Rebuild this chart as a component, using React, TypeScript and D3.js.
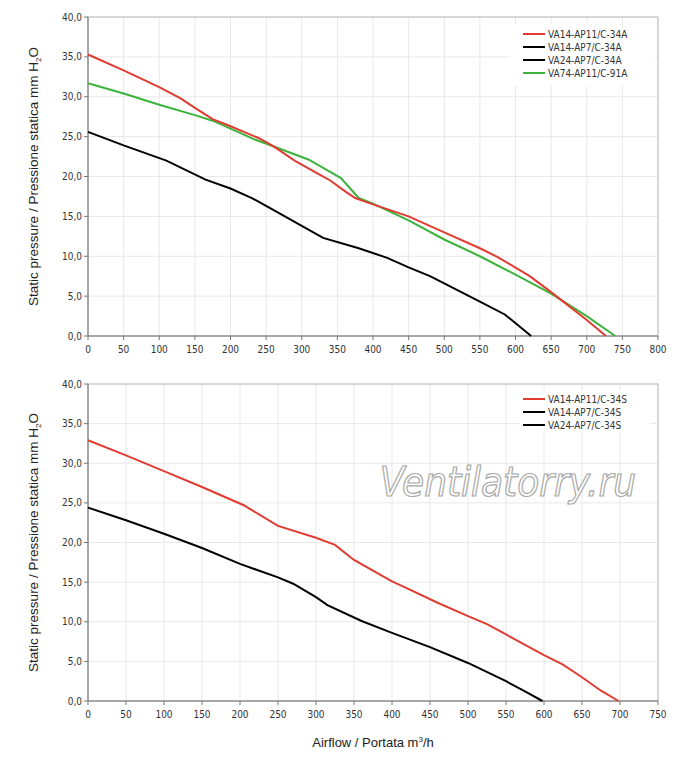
import React from "react";
import * as d3 from "d3";

type P = [number, number];
const topRed: P[] = [[0,35.3],[50,33.3],[100,31.2],[130,29.8],[150,28.6],[175,27.2],[200,26.3],[240,24.8],[260,23.8],[290,22.0],[320,20.5],[340,19.5],[360,18.2],[375,17.3],[400,16.5],[450,15.0],[500,13.0],[550,11.0],[575,9.9],[620,7.5],[650,5.5],[700,2.0],[727,0]];
const topGreen: P[] = [[0,31.7],[50,30.4],[100,29.0],[150,27.7],[175,27.0],[200,26.0],[235,24.6],[260,23.8],[310,22.1],[355,19.8],[380,17.3],[400,16.6],[450,14.5],[500,12.1],[550,10.0],[600,7.7],[650,5.3],[700,2.5],[740,0]];
const topBlack: P[] = [[0,25.6],[50,23.9],[110,22.0],[165,19.6],[200,18.5],[230,17.3],[260,15.8],[300,13.8],[330,12.3],[380,11.0],[420,9.8],[450,8.6],[480,7.5],[500,6.6],[550,4.3],[585,2.7],[622,0]];
const botRed: P[] = [[0,32.9],[50,31.0],[100,29.0],[150,27.0],[205,24.7],[250,22.1],[300,20.6],[325,19.7],[350,17.8],[400,15.1],[420,14.2],[460,12.4],[500,10.7],[525,9.7],[550,8.4],[600,5.8],[625,4.6],[650,3.0],[675,1.3],[698,0]];
const botBlack: P[] = [[0,24.4],[50,22.8],[100,21.1],[150,19.3],[200,17.3],[250,15.6],[270,14.8],[300,13.1],[315,12.1],[360,10.1],[400,8.6],[450,6.8],[500,4.8],[550,2.5],[575,1.2],[598,0]];
const topLegend = ["VA14-AP11/C-34A", "VA14-AP7/C-34A", "VA24-AP7/C-34A", "VA74-AP11/C-91A"];
const topLegendColors = ["#e03c31", "#000", "#000", "#3cb43c"];
const botLegend = ["VA14-AP11/C-34S", "VA14-AP7/C-34S", "VA24-AP7/C-34S"];
const botLegendColors = ["#e03c31", "#000", "#000"];
const yTicks = [0, 5, 10, 15, 20, 25, 30, 35, 40];

const tickFont = "'DejaVu Sans Condensed', 'Liberation Sans Narrow', sans-serif";

function Panel({ top, bottom, xMax, series, legend, legendColors, legY, legBox }: any) {
  const x = d3.scaleLinear().domain([0, xMax]).range([88, 658]);
  const y = d3.scaleLinear().domain([0, 40]).range([bottom, top]);
  const xTicks = d3.range(0, xMax + 1, 50);
  const line = d3.line<P>().x(d => x(d[0])).y(d => y(d[1]));
  return (
    <g>
      {xTicks.map(t => <line key={"gx" + t} x1={x(t)} x2={x(t)} y1={top} y2={bottom} stroke="#e8e8e8" />)}
      {yTicks.map(t => <line key={"gy" + t} x1={88} x2={658} y1={y(t)} y2={y(t)} stroke="#e8e8e8" />)}
      <rect x={88} y={top} width={570} height={bottom - top} fill="none" stroke="#bbb" />
      <line x1={88} x2={88} y1={top} y2={bottom} stroke="#777" />
      <line x1={88} x2={658} y1={bottom} y2={bottom} stroke="#777" />
      {xTicks.map(t => <line key={"tx" + t} x1={x(t)} x2={x(t)} y1={bottom} y2={bottom + 4} stroke="#777" />)}
      {yTicks.map(t => <line key={"ty" + t} x1={84} x2={88} y1={y(t)} y2={y(t)} stroke="#777" />)}
      {xTicks.map(t => <text key={"lx" + t} x={x(t)} y={bottom + 17} fontSize={10} textAnchor="middle" fontFamily={tickFont} fill="#333">{t}</text>)}
      {yTicks.map(t => <text key={"ly" + t} x={82} y={y(t) + 3.5} fontSize={10} textAnchor="end" fontFamily={tickFont} fill="#333">{t.toFixed(1).replace(".", ",")}</text>)}
      <rect x={legBox[0]} y={legBox[1]} width={legBox[2]} height={legBox[3]} fill="#fff" />
      {series.map((s: any, i: number) => <path key={i} d={line(s.data) || ""} fill="none" stroke={s.color} strokeWidth={2} />)}
      {legend.map((l: string, i: number) => (
        <g key={l}>
          <line x1={523} x2={545} y1={legY + i * 13} y2={legY + i * 13} stroke={legendColors[i]} strokeWidth={2} />
          <text x={548} y={legY + i * 13 + 3.5} fontSize={10} fontFamily={tickFont} fill="#333">{l}</text>
        </g>
      ))}
      <text transform={`translate(38,${(top + bottom) / 2}) rotate(-90)`} textAnchor="middle" fontSize={13.5} fontFamily="'Liberation Sans', Arial, sans-serif" fill="#222">
        Static pressure / Pressione statica  mm  H<tspan fontSize={8} dy={3}>2</tspan><tspan dy={-3}>O</tspan>
      </text>
    </g>
  );
}

export default function App() {
  return (
    <svg width={700} height={767} style={{ display: "block", position: "absolute", left: 0, top: 0 }}>
      <rect width={700} height={767} fill="#fff" />
      <Panel top={17} bottom={336} xMax={800}
        series={[{ data: topBlack, color: "#000" }, { data: topGreen, color: "#3cb43c" }, { data: topRed, color: "#e03c31" }]}
        legend={topLegend} legendColors={topLegendColors} legY={34} legBox={[510, 24, 145, 62]} />
      <Panel top={384} bottom={701} xMax={750}
        series={[{ data: botBlack, color: "#000" }, { data: botRed, color: "#e03c31" }]}
        legend={botLegend} legendColors={botLegendColors} legY={399} legBox={[520, 390, 130, 42]} />
      <text x={636} y={496} textAnchor="end" fontSize={40} fontStyle="italic" fontFamily="'DejaVu Sans Condensed', 'Liberation Sans', sans-serif" fill="#fff" stroke="#aaa" strokeWidth={1.2}>Ventilatorry.ru</text>
      <text x={373} y={747} textAnchor="middle" fontSize={13} fontFamily="'Liberation Sans', Arial, sans-serif" fill="#222">
        Airflow / Portata  m<tspan fontSize={8} dy={-5}>3</tspan><tspan dy={5}>/h</tspan>
      </text>
    </svg>
  );
}
